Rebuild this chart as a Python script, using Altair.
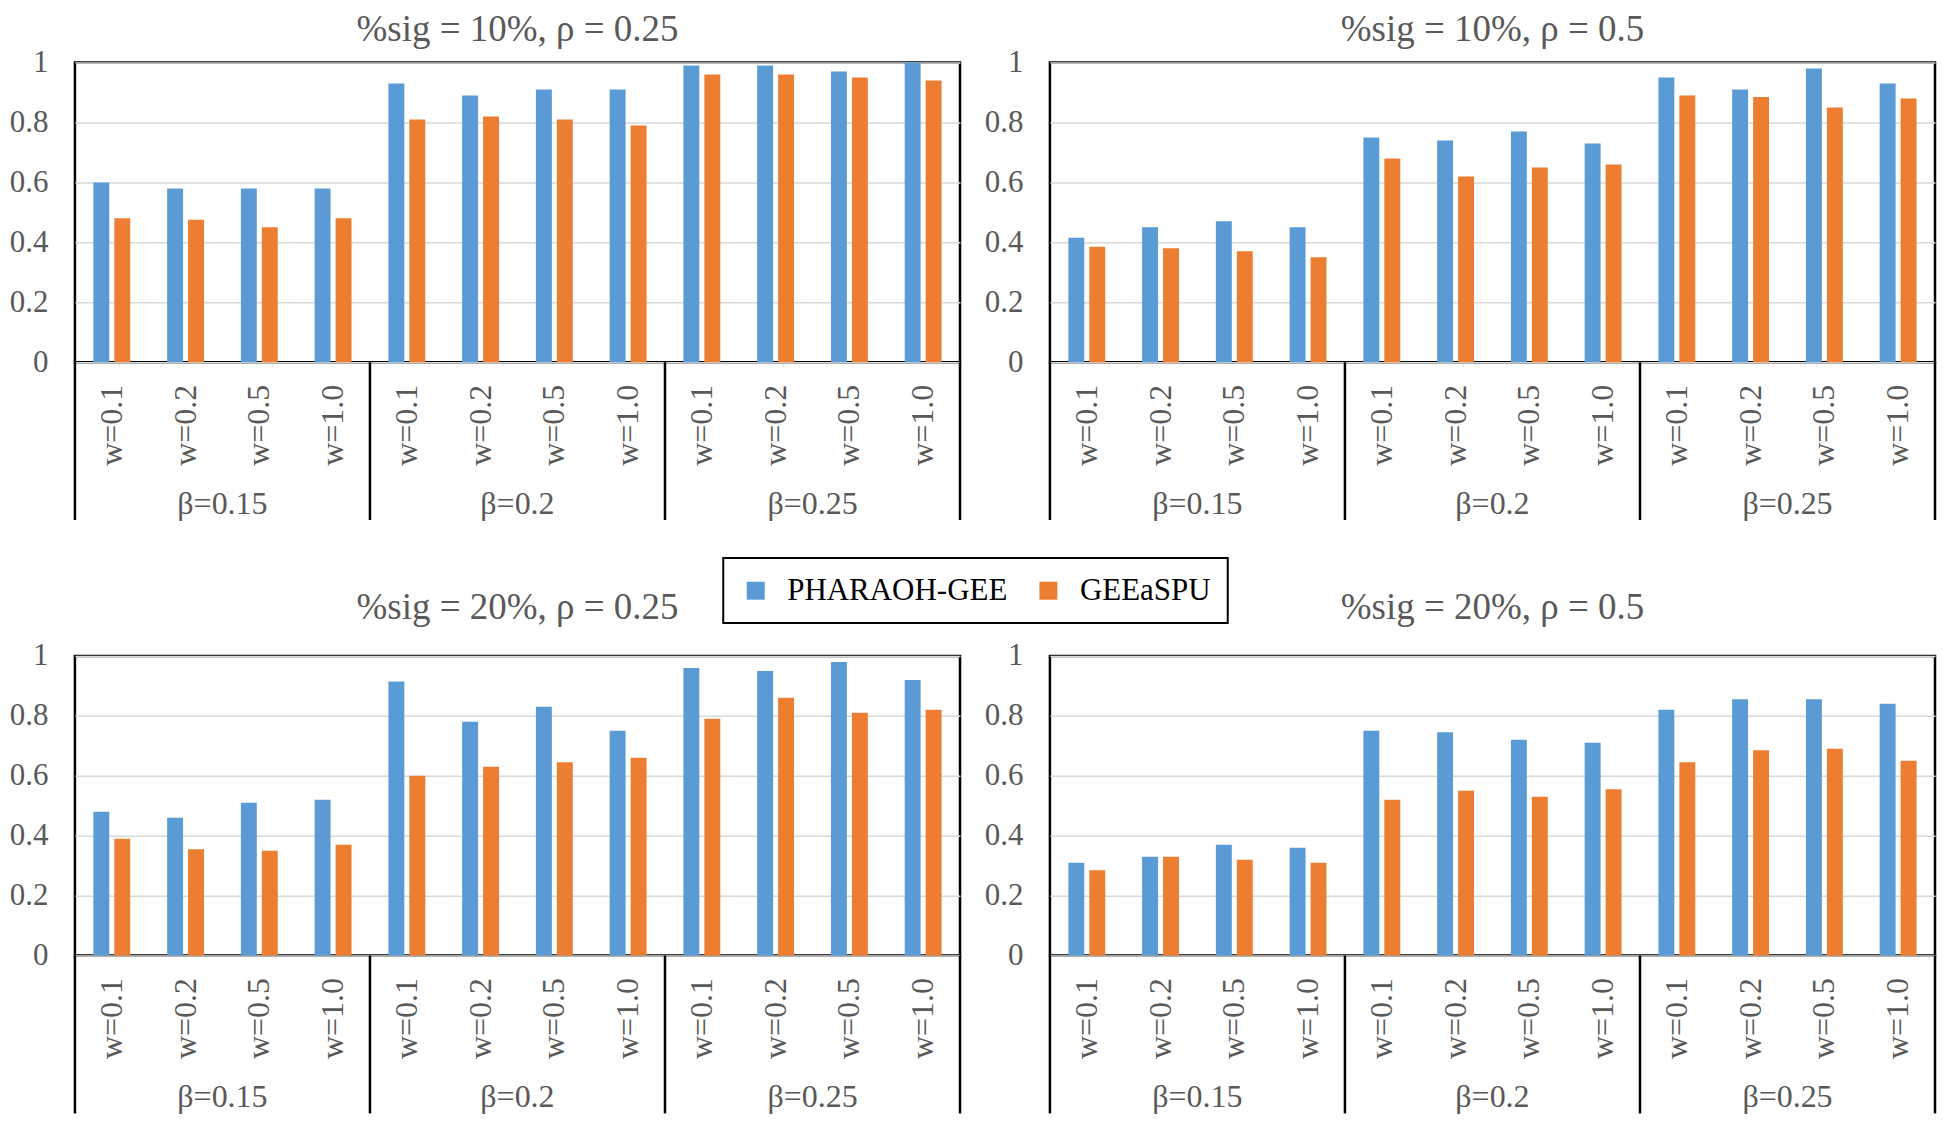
import altair as alt
import pandas as pd

series = ["PHARAOH-GEE", "GEEaSPU"]
colors = ["#5B9BD5", "#ED7D31"]
betas = ["β=0.15", "β=0.2", "β=0.25"]
ws = ["w=0.1", "w=0.2", "w=0.5", "w=1.0"]
yticks = [0, 0.2, 0.4, 0.6, 0.8, 1]

titles = ["%sig = 10%, ρ = 0.25", "%sig = 10%, ρ = 0.5",
          "%sig = 20%, ρ = 0.25", "%sig = 20%, ρ = 0.5"]

pharaoh_10_025 = [0.60, 0.58, 0.58, 0.58, 0.93, 0.89, 0.91, 0.91, 0.99, 0.99, 0.97, 1.00]
geeaspu_10_025 = [0.48, 0.475, 0.45, 0.48, 0.81, 0.82, 0.81, 0.79, 0.96, 0.96, 0.95, 0.94]
pharaoh_10_05 = [0.415, 0.45, 0.47, 0.45, 0.75, 0.74, 0.77, 0.73, 0.95, 0.91, 0.98, 0.93]
geeaspu_10_05 = [0.385, 0.38, 0.37, 0.35, 0.68, 0.62, 0.65, 0.66, 0.89, 0.885, 0.85, 0.88]
pharaoh_20_025 = [0.48, 0.46, 0.51, 0.52, 0.915, 0.78, 0.83, 0.75, 0.96, 0.95, 0.98, 0.92]
geeaspu_20_025 = [0.39, 0.355, 0.35, 0.37, 0.60, 0.63, 0.645, 0.66, 0.79, 0.86, 0.81, 0.82]
pharaoh_20_05 = [0.31, 0.33, 0.37, 0.36, 0.75, 0.745, 0.72, 0.71, 0.82, 0.855, 0.855, 0.84]
geeaspu_20_05 = [0.285, 0.33, 0.32, 0.31, 0.52, 0.55, 0.53, 0.555, 0.645, 0.685, 0.69, 0.65]

cats = [f"{b}|{w}" for b in betas for w in ws]

W = 886
H = 300
EXT = 158
FONT = "Liberation Serif"
GRAY = "#595959"


def panel(title, blue, orange, title_offset):
    rows = []
    for i, c in enumerate(cats):
        rows.append({"cat": c, "series": series[0], "value": blue[i]})
        rows.append({"cat": c, "series": series[1], "value": orange[i]})
    df = pd.DataFrame(rows)
    xscale = alt.Scale(domain=cats, paddingInner=0, paddingOuter=0)

    bars = alt.Chart(df).mark_bar().encode(
        x=alt.X("cat:N", scale=xscale, sort=cats, title=None,
                axis=alt.Axis(labelExpr="split(datum.value, '|')[1]", labelAngle=270,
                              labelFontSize=32, labelPadding=22, ticks=False,
                              domain=False, grid=False, labelOverlap=False)),
        xOffset=alt.XOffset("series:N", sort=series,
                            scale=alt.Scale(domain=series, paddingInner=0.24, paddingOuter=0.88)),
        y=alt.Y("value:Q", title=None, scale=alt.Scale(domain=[0, 1]),
                axis=alt.Axis(values=yticks, format="~g", labelFontSize=31,
                              labelPadding=27, ticks=False, domain=False,
                              grid=True, gridColor="#D9D9D9", gridWidth=1.5)),
        color=alt.Color("series:N", sort=series,
                        scale=alt.Scale(domain=series, range=colors),
                        legend=alt.Legend(title=None, orient="none", legendX=649, legendY=496,
                                          direction="horizontal", symbolType="square",
                                          symbolSize=324, symbolStrokeWidth=0,
                                          labelFontSize=31, labelFont=FONT, labelColor="black",
                                          labelLimit=500,
                                          labelOffset=16, columnPadding=25, padding=17,
                                          strokeColor="black", fillColor="white")),
    )

    starts = pd.DataFrame({"cat": [cats[0], cats[4], cats[8]]})
    ends = pd.DataFrame({"cat": [cats[-1]]})
    rule_s = alt.Chart(starts).mark_rule(color="black", strokeWidth=2.5).encode(
        x=alt.X("cat:N", scale=xscale, sort=cats, bandPosition=0),
        y=alt.value(H), y2=alt.value(H + EXT))
    rule_e = alt.Chart(ends).mark_rule(color="black", strokeWidth=2.5).encode(
        x=alt.X("cat:N", scale=xscale, sort=cats, bandPosition=1),
        y=alt.value(H), y2=alt.value(H + EXT))

    groups = pd.DataFrame({"cat": [cats[1], cats[5], cats[9]], "label": betas})
    glabels = alt.Chart(groups).mark_text(font=FONT, fontSize=32, color=GRAY,
                                          baseline="middle", align="center").encode(
        x=alt.X("cat:N", scale=xscale, sort=cats, bandPosition=1),
        y=alt.value(H + 142), text="label:N")

    return alt.layer(bars, rule_s, rule_e, glabels).properties(
        width=W, height=H,
        title=alt.TitleParams(title, font=FONT, fontSize=37, color=GRAY,
                              fontWeight="normal", anchor="middle", offset=title_offset))


p1 = panel(titles[0], pharaoh_10_025, geeaspu_10_025, -2)
p2 = panel(titles[1], pharaoh_10_05, geeaspu_10_05, -2)
p3 = panel(titles[2], pharaoh_20_025, geeaspu_20_025, 13)
p4 = panel(titles[3], pharaoh_20_05, geeaspu_20_05, 13)

chart = alt.vconcat(
    alt.hconcat(p1, p2, spacing=20),
    alt.hconcat(p3, p4, spacing=20),
    spacing=64,
).properties(
    padding=0
).configure_view(
    stroke="black", strokeWidth=2.5
).configure_axis(
    labelFont=FONT, labelColor=GRAY
).configure_legend(
    strokeWidth=2
)

chart.save("out.html", embed_options={"renderer": "svg", "actions": False})
